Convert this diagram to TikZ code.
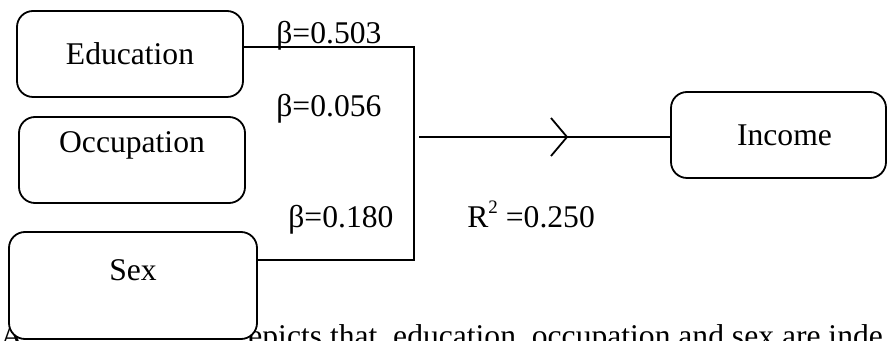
\documentclass[tikz,border=0pt]{standalone}
\usepackage{fontspec}
\setmainfont{Liberation Serif}
\begin{document}
\begin{tikzpicture}[x=0.5pt,y=-0.5pt,
  box/.style={draw=black,line width=0.9pt,rounded corners=8pt,fill=white,inner sep=0pt},
  txt/.style={inner sep=0pt,font=\fontsize{15.8}{19}\selectfont},
  conn/.style={draw=black,line width=0.9pt}]
\useasboundingbox (0,0) rectangle (887,341);
\clip (0,0) rectangle (887,341);
% partially hidden sentence
\node[txt,anchor=base west] (ta) at (0,346) {A};
\node[txt,anchor=base west] (tb) at (248,346) {epicts that, education, occupation and sex are inde};
% boxes
\node[box,minimum width=113pt,minimum height=43pt] (edu) at (130,54) {};
\node[txt] (edut) at (edu.center) {Education};
\node[box,minimum width=113pt,minimum height=43pt] (occ) at (132,160) {};
\node[txt,anchor=base] (occt) at (132,153) {Occupation};
\node[box,minimum width=124pt,minimum height=53.5pt] (sex) at (133,285.5) {};
\node[txt,anchor=base] (sext) at (133,280) {Sex};
\node[box,minimum width=107.5pt,minimum height=43pt] (inc) at (778.5,135) {};
\node[txt] (inct) at ([xshift=3pt]inc.center) {Income};
% junction
\coordinate (j1) at (414,47);
\coordinate (j2) at (414,260);
\coordinate (m0) at (419,137);
\coordinate (tip) at (567,137);
\draw[conn] (edu.east |- j1) -- (j1) -- (j2) -- (sex.east |- j2);
\draw[conn] (m0) -- (m0 -| inc.west);
\draw[conn] ([shift={(-16,-19)}]tip) -- (tip) -- ([shift={(-16,19)}]tip);
% labels
\node[txt,anchor=base west] (b1) at (276,44) {β=0.503};
\node[txt,anchor=base west] (b2) at (276,117) {β=0.056};
\node[txt,anchor=base west] (b3) at (288,228) {β=0.180};
\node[txt,anchor=base west] (r2) at (467,228) {R\raisebox{0.45em}{\fontsize{9.5}{10}\selectfont 2} =0.250};
\end{tikzpicture}
\end{document}
